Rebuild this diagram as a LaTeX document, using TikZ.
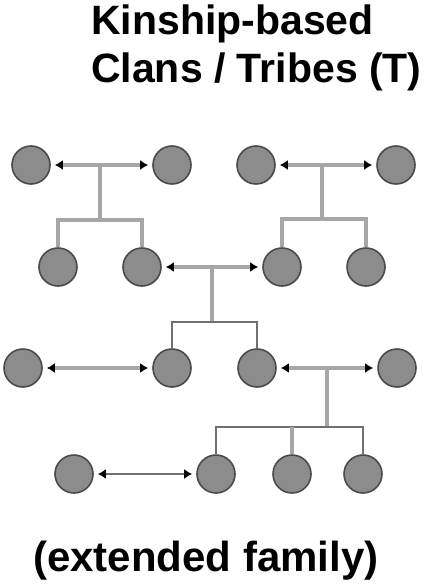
\documentclass[tikz,border=0pt]{standalone}
\usepackage{fontspec}
\setmainfont{Liberation Sans}
\usetikzlibrary{arrows.meta}
\usetikzlibrary{calc}
\definecolor{kingray}{HTML}{A6A6A6}
\definecolor{kindark}{HTML}{707070}
\definecolor{personfill}{HTML}{8C8C8C}
\definecolor{personedge}{HTML}{4A4A4A}
\tikzset{
    person/.style={circle, minimum size=38pt, inner sep=0pt, fill=personfill, draw=personedge, line width=1.6pt},
    kin/.style={draw=kingray, line width=3.5pt},
    kinline/.style={draw=kindark, line width=2.8pt},
    spouse/.style={draw=kingray, line width=3.5pt, shorten <=4pt, shorten >=4pt,
        {Latex[black,length=8pt,width=10pt]}-{Latex[black,length=8pt,width=10pt]}},
    spousedark/.style={spouse, draw=kindark, line width=2.5pt},
    heading/.style={font=\bfseries\fontsize{41}{47}\selectfont, inner sep=0pt, anchor=base west}
}

\begin{document}
\begin{tikzpicture}[x=1pt,y=-1pt]
	\useasboundingbox (0,0) rectangle (434,586);
	% title
	\node[heading] (title1) at (91,35) {Kinship-based};
	\node[heading] (title2) at (91,82) {Clans / Tribes (T)};
	\node[heading, font=\bfseries\fontsize{42}{48}\selectfont] (caption) at (33,571) {(extended family)};
	% people
	\node[person] (A1) at (31,165) {};
	\node[person] (A2) at (172,165) {};
	\node[person] (A3) at (256,165) {};
	\node[person] (A4) at (396,165) {};
	\node[person] (B1) at (58,267) {};
	\node[person] (B2) at (142,267) {};
	\node[person] (B3) at (282,267) {};
	\node[person] (B4) at (366,267) {};
	\node[person] (C1) at (23,368) {};
	\node[person] (C2) at (172,368) {};
	\node[person] (C3) at (257,368) {};
	\node[person] (C4) at (397,368) {};
	\node[person] (D1) at (74,474) {};
	\node[person] (D2) at (216,474) {};
	\node[person] (D3) at (292,474) {};
	\node[person] (D4) at (363,474) {};
	% marriages
	\draw[spouse] (A1) -- (A2);
	\draw[spouse] (A3) -- (A4);
	\draw[spouse] (B2) -- (B3);
	\draw[spouse] (C1) -- (C2);
	\draw[spouse] (C3) -- (C4);
	\draw[spousedark] (D1) -- (D2);
	% descent
	\coordinate (m1) at ($(A1)!0.49!(A2)$);
	\coordinate (m2) at ($(A3)!0.47!(A4)$);
	\coordinate (m3) at ($(B2)!0.5!(B3)$);
	\coordinate (m4) at ($(C3)!0.5!(C4)$);
	\path (m1) ++(0,55) coordinate (j1);
	\path (m2) ++(0,54) coordinate (j2);
	\path (m3) ++(0,55) coordinate (j3);
	\path (m4) ++(0,59) coordinate (j4);
	\draw[kin] (m1) -- (j1);
	\draw[kin] (m2) -- (j2);
	\draw[kin] (m3) -- (j3);
	\draw[kin] (m4) -- (j4);
	\draw[kin] (B1) |- (j1) -| (B2);
	\draw[kin] (B3) |- (j2) -| (B4);
	\draw[kinline] (C2) |- (j3) -| (C3);
	\draw[kinline] (D2) |- (j4) -| (D4);
	\draw[kin] (D3) -- (D3 |- j4);
\end{tikzpicture}
\end{document}
